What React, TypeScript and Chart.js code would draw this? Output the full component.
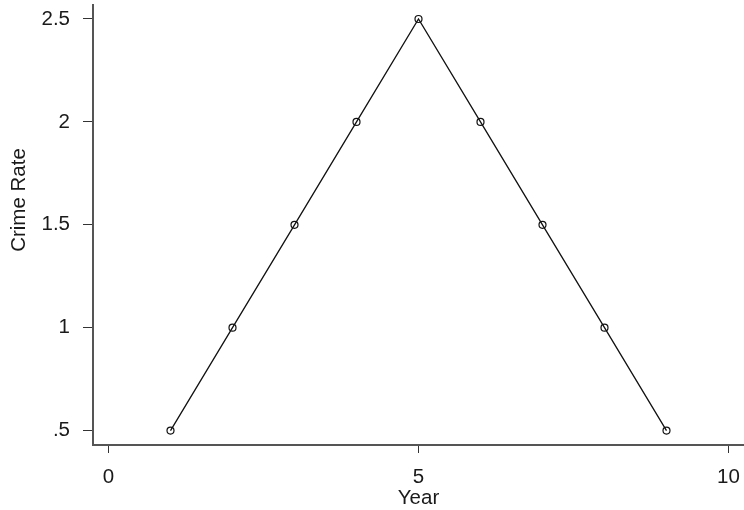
import React, { useEffect, useRef } from "react";
import { Chart, registerables } from "chart.js";

Chart.register(...registerables);

const years = [1, 2, 3, 4, 5, 6, 7, 8, 9];
const crimeRate = [0.5, 1, 1.5, 2, 2.5, 2, 1.5, 1, 0.5];
const xTickValues = [0, 5, 10];
const xTickLabels = ["0", "5", "10"];
const yTickValues = [0.5, 1, 1.5, 2, 2.5];
const yTickLabels = [".5", "1", "1.5", "2", "2.5"];
const xTitle = "Year";
const yTitle = "Crime Rate";

const FONT = "'Liberation Sans', Arial, Helvetica, sans-serif";

export default function App() {
  const ref = useRef<HTMLCanvasElement | null>(null);

  useEffect(() => {
    if (!ref.current) return;
    const titlePlugin = {
      id: "axisTitles",
      afterDraw(chart: any) {
        const ctx = chart.ctx;
        ctx.save();
        ctx.fillStyle = "#1a1a1a";
        ctx.font = `20.5px ${FONT}`;
        ctx.textAlign = "center";
        ctx.textBaseline = "middle";
        const xs = chart.scales.x;
        ctx.fillText(xTitle, xs.getPixelForValue(5), 498);
        ctx.translate(19, 200);
        ctx.rotate(-Math.PI / 2);
        ctx.fillText(yTitle, 0, 0);
        ctx.restore();
      },
    };

    const chart = new Chart(ref.current, {
      type: "line",
      data: {
        datasets: [
          {
            data: years.map((x, i) => ({ x, y: crimeRate[i] })),
            borderColor: "#111",
            borderWidth: 1.3,
            pointRadius: 3.5,
            pointBorderWidth: 1.2,
            pointBackgroundColor: "rgba(255,255,255,0)",
            pointBorderColor: "#111",
            tension: 0,
            fill: false,
            clip: false,
          },
        ],
      },
      options: {
        responsive: false,
        animation: false,
        layout: { autoPadding: false, padding: { top: 5, right: 0, left: 0, bottom: 0 } },
        plugins: { legend: { display: false }, tooltip: { enabled: false } },
        scales: {
          x: {
            type: "linear",
            min: -0.25,
            max: 10.25,
            afterBuildTicks: (s: any) => {
              s.ticks = xTickValues.map((v) => ({ value: v }));
            },
            afterFit: (s: any) => {
              s.height = 65;
              s.paddingLeft = 0;
              s.paddingRight = 0;
            },
            border: { display: true, color: "#555", width: 2 },
            grid: {
              display: true,
              drawOnChartArea: false,
              drawTicks: true,
              tickLength: 8,
              tickColor: "#333",
              tickWidth: 1,
            },
            ticks: {
              color: "#1a1a1a",
              font: { family: FONT, size: 20.5 },
              padding: 12,
              maxRotation: 0,
              autoSkip: false,
              callback: (v: any) => {
                const i = xTickValues.indexOf(Number(v));
                return i >= 0 ? xTickLabels[i] : "";
              },
            },
          },
          y: {
            type: "linear",
            min: 0.43,
            max: 2.568,
            afterBuildTicks: (s: any) => {
              s.ticks = yTickValues.map((v) => ({ value: v }));
            },
            afterFit: (s: any) => {
              s.width = 93;
              s.paddingTop = 0;
              s.paddingBottom = 0;
            },
            border: { display: true, color: "#555", width: 2 },
            grid: {
              display: true,
              drawOnChartArea: false,
              drawTicks: true,
              tickLength: 10,
              tickColor: "#333",
              tickWidth: 1,
            },
            ticks: {
              color: "#1a1a1a",
              font: { family: FONT, size: 20.5 },
              padding: 13,
              autoSkip: false,
              callback: (v: any) => {
                const i = yTickValues.indexOf(Number(v));
                return i >= 0 ? yTickLabels[i] : "";
              },
            },
          },
        },
      },
      plugins: [titlePlugin],
    });
    return () => chart.destroy();
  }, []);

  return (
    <div style={{ position: "fixed", left: 0, top: 0, width: 744, height: 510, background: "#fff" }}>
      <canvas ref={ref} width={744} height={510} style={{ display: "block" }} />
    </div>
  );
}
